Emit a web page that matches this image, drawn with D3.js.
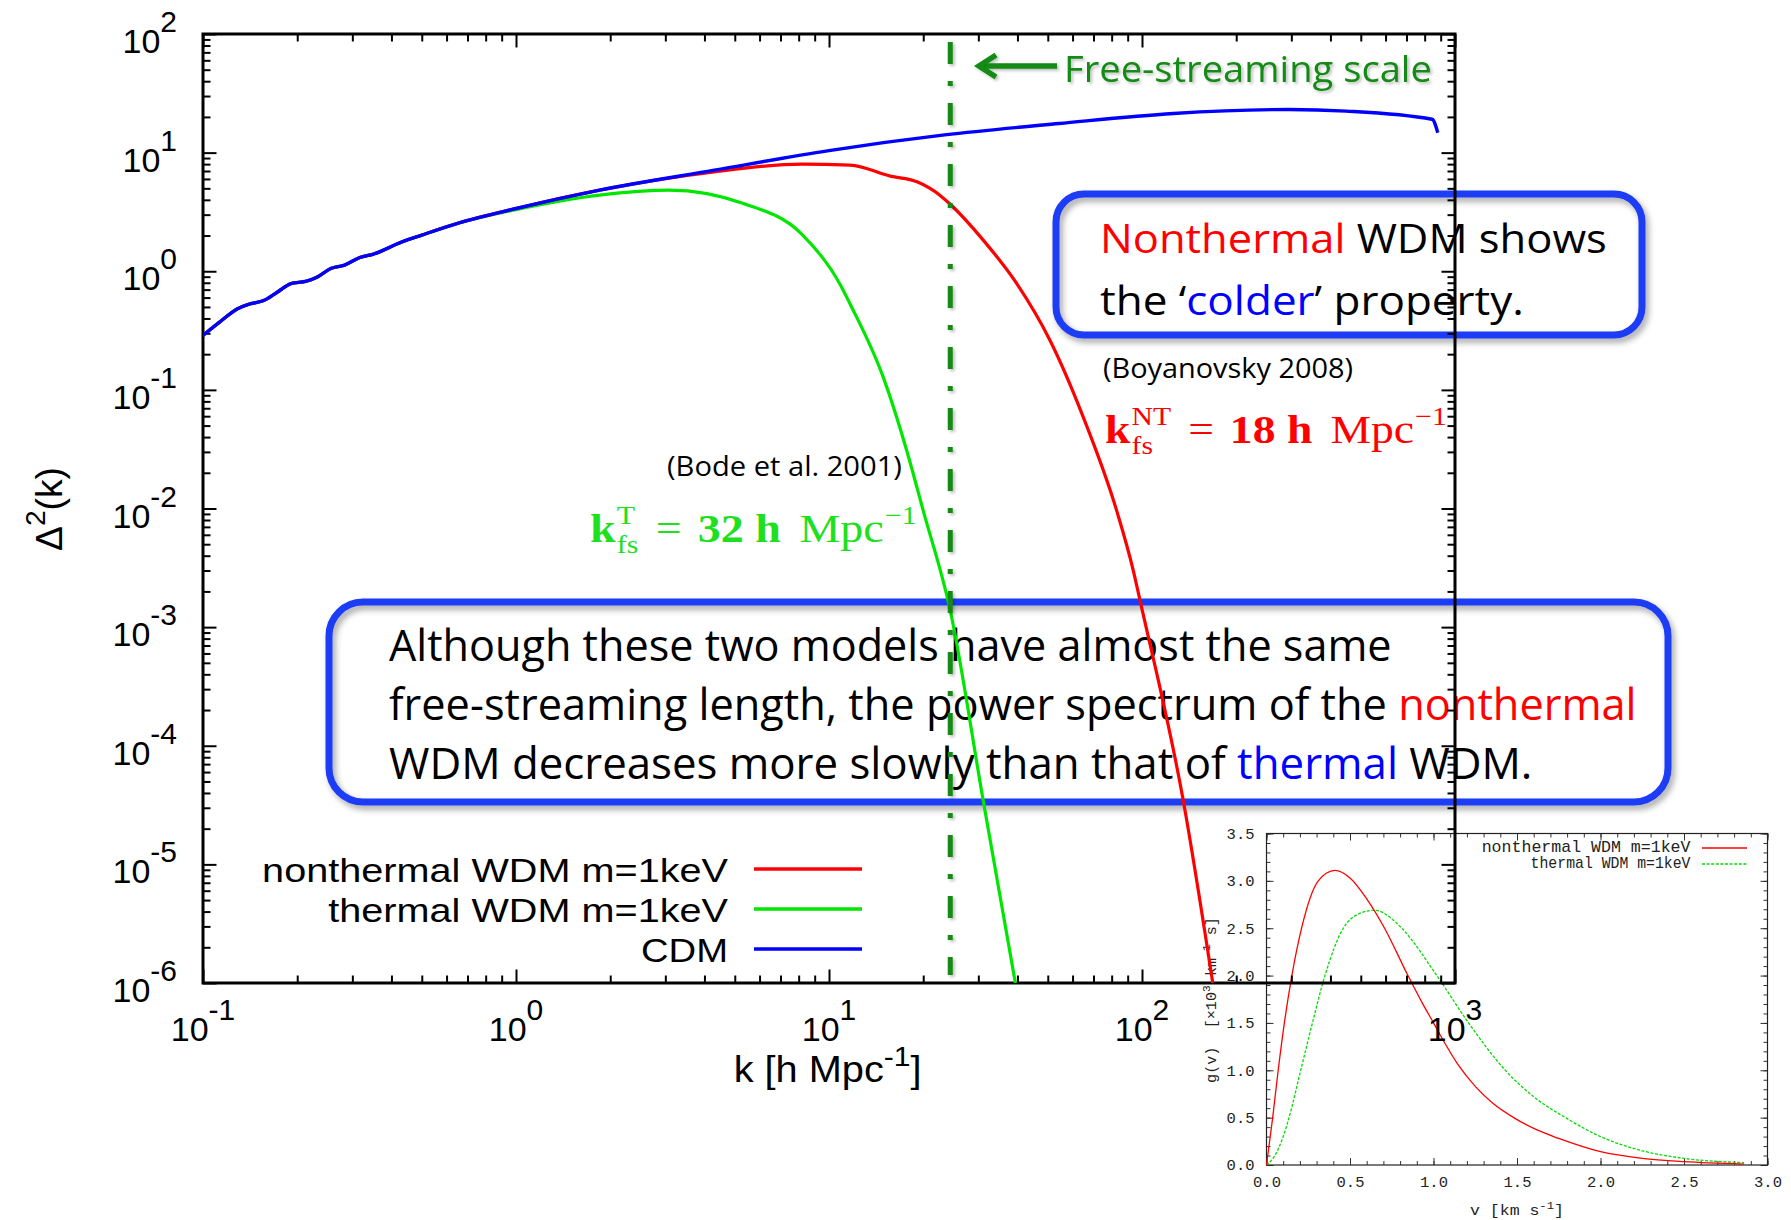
<!DOCTYPE html>
<html>
<head>
<meta charset="utf-8">
<script src="https://d3js.org/d3.v7.min.js"></script>
<style>
  body { margin: 0; background: #fff; }
  svg { display: block; }
</style>
</head>
<body>
<svg id="chart" width="1791" height="1220"></svg>
<script>
// ---- main panel: Delta^2(k) against k ----
const cdmK = [0.1, 0.113, 0.129, 0.140, 0.157, 0.173, 0.191, 0.214, 0.232, 0.256, 0.283, 0.317, 0.349, 0.432, 0.498, 0.659, 1.0, 1.85, 4.3, 10, 23.4, 54.3, 126, 295, 449, 845, 881];
const cdmD = [0.288, 0.373, 0.484, 0.527, 0.569, 0.668, 0.787, 0.824, 0.895, 1.054, 1.125, 1.306, 1.39, 1.766, 2.01, 2.56, 3.38, 4.83, 7.11, 10.4, 14.1, 17.6, 21.4, 23.1, 22.4, 19.1, 14.7];

// the two WDM curves sit on top of CDM below k = 1
const ntK = [1.85, 4.3, 8.15, 11.7, 15.7, 19.1, 22.6, 24.4, 31.1, 39.8, 50.8, 64.9, 83.0, 93.8, 98.6, 135.5, 168.3];
const ntD = [4.83, 6.89, 8.0, 7.85, 6.34, 5.68, 4.38, 3.67, 1.83, 0.787, 0.262, 0.059, 0.0096, 0.0030, 0.00167, 3.44e-5, 1.0e-6];

const thK = [1.0, 1.85, 3.08, 5.33, 8.15, 10.9, 11.7, 14.9, 17.7, 20.0, 24.4, 31.1, 39.4];
const thD = [3.31, 4.38, 4.83, 3.72, 2.08, 0.76, 0.525, 0.128, 0.031, 0.0096, 0.00138, 3.44e-5, 1.0e-6];

const kFreeStreaming = 24.4;
const majorK = [0.1, 1, 10, 100, 1000];
const majorD = [1e-6, 1e-5, 1e-4, 1e-3, 1e-2, 1e-1, 1, 10, 100];
const kExponents = ["-1", "0", "1", "2", "3"];
const dExponents = ["-6", "-5", "-4", "-3", "-2", "-1", "0", "1", "2"];
const legendLabels = ["nonthermal WDM m=1keV", "thermal WDM m=1keV", "CDM"];
const legendColors = ["#ff0000", "#00e600", "#0000ff"];

// ---- inset: velocity distribution g(v) ----
const insetNtV = [0, 0.037, 0.07, 0.107, 0.152, 0.21, 0.31, 0.41, 0.5, 0.6, 0.707, 0.847, 0.93, 1.0, 1.07, 1.143, 1.25, 1.35, 1.49, 1.62, 1.75, 2.0, 2.25, 2.5, 2.86];
const insetNtG = [0, 0.5, 1.0, 1.5, 2.0, 2.5, 3.0, 3.11, 3.03, 2.81, 2.5, 2.0, 1.72, 1.5, 1.28, 1.07, 0.83, 0.66, 0.49, 0.37, 0.28, 0.14, 0.07, 0.035, 0.01];
const insetThV = [0, 0.05, 0.1, 0.135, 0.205, 0.275, 0.35, 0.46, 0.55, 0.648, 0.75, 0.81, 1.02, 1.21, 1.43, 1.6, 1.79, 2.0, 2.25, 2.5, 2.86];
const insetThG = [0, 0.1, 0.3, 0.5, 1.0, 1.5, 2.0, 2.5, 2.65, 2.69, 2.6, 2.5, 2.0, 1.5, 1.0, 0.72, 0.5, 0.3, 0.15, 0.07, 0.025];
const insetXTicks = [0, 0.5, 1.0, 1.5, 2.0, 2.5, 3.0];
const insetYTicks = [0, 0.5, 1.0, 1.5, 2.0, 2.5, 3.0, 3.5];
const insetLegend = ["nonthermal WDM m=1keV", "thermal WDM m=1keV"];

const SANS = "'Liberation Sans', Arial, Helvetica, sans-serif";
const BODY = "'Open Sans', 'Noto Sans', sans-serif";
const SERIF = "'Liberation Serif', 'DejaVu Serif', serif";
const MONO = "'Liberation Mono', 'DejaVu Sans Mono', monospace";
const BOX_BLUE = "#1a3cf5";
const DARK_GREEN = "#128a12";

const svg = d3.select("#chart");
svg.append("rect").attr("width", 1791).attr("height", 1220).attr("fill", "#fff");

const defs = svg.append("defs");
defs.append("filter").attr("id", "shadow")
  .attr("x", "-5%").attr("y", "-10%").attr("width", "115%").attr("height", "130%")
  .append("feDropShadow")
  .attr("dx", 3).attr("dy", 4).attr("stdDeviation", 3)
  .attr("flood-color", "#000").attr("flood-opacity", 0.35);
// user-space region so that a bare vertical line still gets its shadow
defs.append("filter").attr("id", "softShadow")
  .attr("filterUnits", "userSpaceOnUse")
  .attr("x", 0).attr("y", 0).attr("width", 1791).attr("height", 1220)
  .append("feDropShadow")
  .attr("dx", 2).attr("dy", 2).attr("stdDeviation", 1.5)
  .attr("flood-color", "#000").attr("flood-opacity", 0.25);

/**
 * Squeezes or stretches a text element horizontally so it spans `width`,
 * keeping its anchor point fixed (fonts here are wider than Calibri)
 */
function fitWidth(sel, width) {
  const w = sel.node().getComputedTextLength();
  const x = +sel.attr("x");
  const s = width / w;
  sel.attr("transform", `translate(${x},0) scale(${s},1) translate(${-x},0)`);
  return sel;
}

function addText(g, x, y, size, family) {
  return g.append("text")
    .attr("x", x).attr("y", y)
    .attr("font-size", size).attr("font-family", family)
    .attr("xml:space", "preserve");
}

// ================= inset =================
const ix = d3.scaleLinear().domain([0, 3]).range([1266.5, 1767.5]);
const iy = d3.scaleLinear().domain([0, 3.5]).range([1165, 833.5]);
const inset = svg.append("g").attr("id", "inset");

const insetMinorX = d3.range(0, 3.0001, 0.1);
const insetMinorY = d3.range(0, 3.5001, 0.1);

function insetAxis(axis, minor, tx, ty, labels) {
  const horizontal = axis === d3.axisBottom || axis === d3.axisTop;
  const scale = horizontal ? ix : iy;
  const ticks = horizontal ? insetXTicks : insetYTicks;
  const gMinor = inset.append("g").attr("transform", `translate(${tx},${ty})`)
    .call(axis(scale).tickValues(minor).tickSize(-4).tickSizeOuter(0).tickFormat(""));
  gMinor.select(".domain").remove();
  const gMajor = inset.append("g").attr("transform", `translate(${tx},${ty})`)
    .call(axis(scale).tickValues(ticks).tickSize(-7).tickSizeOuter(0)
      .tickPadding(axis === d3.axisBottom ? 11 : 12)
      .tickFormat(labels ? d3.format(".1f") : ""));
  gMajor.select(".domain").remove();
  [gMinor, gMajor].forEach(g => g.selectAll(".tick line").attr("stroke", "#333").attr("stroke-width", 1));
  gMajor.selectAll("text").attr("font-family", MONO).attr("font-size", 15.5).attr("fill", "#222");
}
insetAxis(d3.axisBottom, insetMinorX, 0, 1165, true);
insetAxis(d3.axisTop, insetMinorX, 0, 833.5, false);
insetAxis(d3.axisLeft, insetMinorY, 1266.5, 0, true);
insetAxis(d3.axisRight, insetMinorY, 1767.5, 0, false);

inset.append("rect")
  .attr("x", 1266.5).attr("y", 833.5).attr("width", 501).attr("height", 331.5)
  .attr("fill", "none").attr("stroke", "#222").attr("stroke-width", 1.2);

const insetLine = d3.line().x(d => ix(d[0])).y(d => iy(d[1])).curve(d3.curveMonotoneX);
inset.append("path")
  .attr("d", insetLine(d3.zip(insetThV, insetThG)))
  .attr("fill", "none").attr("stroke", "#00dd00").attr("stroke-width", 1.3)
  .attr("stroke-dasharray", "3,1.6");
inset.append("path")
  .attr("d", insetLine(d3.zip(insetNtV, insetNtG)))
  .attr("fill", "none").attr("stroke", "#ff0000").attr("stroke-width", 1.3);

// inset legend
insetLegend.forEach((lab, i) => {
  const yy = 848 + i * 16;
  const t = addText(inset, 1690.5, yy + 4.5, 16, MONO).attr("text-anchor", "end").attr("fill", "#222").text(lab);
  fitWidth(t, i === 0 ? 209 : 160);
  inset.append("line")
    .attr("x1", 1702).attr("x2", 1747).attr("y1", yy).attr("y2", yy)
    .attr("stroke", i === 0 ? "#ff0000" : "#00dd00").attr("stroke-width", 1.3)
    .attr("stroke-dasharray", i === 0 ? null : "3,1.6");
});

// inset axis titles
const ixl = addText(inset, 1517, 1215, 15.5, MONO).attr("text-anchor", "middle").attr("fill", "#222");
ixl.append("tspan").text("v [km s");
ixl.append("tspan").attr("dy", -6).attr("font-size", 11.5).text("-1");
ixl.append("tspan").attr("dy", 6).text("]");
fitWidth(ixl, 94);

const iyl = inset.append("g").attr("transform", "translate(1216,1000) rotate(-90)");
const iylt = addText(iyl, 0, 0, 15.5, MONO).attr("text-anchor", "middle").attr("fill", "#222");
iylt.append("tspan").text("g(v)  [\u00d710");
iylt.append("tspan").attr("dy", -6).attr("font-size", 11.5).text("3");
iylt.append("tspan").attr("dy", 6).text(" km");
iylt.append("tspan").attr("dy", -6).attr("font-size", 11.5).text("-1");
iylt.append("tspan").attr("dy", 6).text(" s]");
fitWidth(iylt, 166);

// ================= annotation boxes (under the chart lines) =================
const boxes = svg.append("g").attr("id", "boxes");
boxes.append("rect")
  .attr("x", 1056).attr("y", 194).attr("width", 586).attr("height", 141)
  .attr("rx", 28).attr("ry", 28)
  .attr("fill", "none").attr("stroke", BOX_BLUE).attr("stroke-width", 7)
  .attr("filter", "url(#shadow)");
boxes.append("rect")
  .attr("x", 329).attr("y", 602).attr("width", 1339).attr("height", 200)
  .attr("rx", 34).attr("ry", 34)
  .attr("fill", "none").attr("stroke", BOX_BLUE).attr("stroke-width", 7)
  .attr("filter", "url(#shadow)");

const b1a = addText(boxes, 1100, 253, 40, BODY).attr("fill", "#000");
b1a.append("tspan").attr("fill", "#ff0000").text("Nonthermal");
b1a.append("tspan").text(" WDM shows");
fitWidth(b1a, 507);
const b1b = addText(boxes, 1100, 315, 40, BODY).attr("fill", "#000");
b1b.append("tspan").text("the \u2018");
b1b.append("tspan").attr("fill", "#0000ff").text("colder");
b1b.append("tspan").text("\u2019 property.");
fitWidth(b1b, 424);

const b2a = addText(boxes, 389, 661, 44, BODY).attr("fill", "#000")
  .text("Although these two models have almost the same");
fitWidth(b2a, 1003);
const b2b = addText(boxes, 389, 720, 44, BODY).attr("fill", "#000");
b2b.append("tspan").text("free-streaming length, the power spectrum of the ");
b2b.append("tspan").attr("fill", "#ff0000").text("nonthermal");
fitWidth(b2b, 1248);
const b2c = addText(boxes, 389, 779, 44, BODY).attr("fill", "#000");
b2c.append("tspan").text("WDM decreases more slowly than that of ");
b2c.append("tspan").attr("fill", "#0000ff").text("thermal");
b2c.append("tspan").text(" WDM.");
fitWidth(b2c, 1144);

// ================= main chart =================
const x = d3.scaleLog().domain([0.1, 1000]).range([203, 1455]);
const y = d3.scaleLog().domain([1e-6, 100]).range([983, 34]);
const [x0, x1] = x.range();
const [yb, yt] = y.range();
const main = svg.append("g").attr("id", "main");

const minorK = [];
majorK.slice(0, -1).forEach(d => { for (let m = 2; m <= 9; m++) minorK.push(d * m); });
const minorD = [];
majorD.slice(0, -1).forEach(d => { for (let m = 2; m <= 9; m++) minorD.push(d * m); });

function mainTicks(axisFn, scale, major, minor, tx, ty) {
  [[minor, -7.5], [major, -13.5]].forEach(([vals, size]) => {
    const g = main.append("g").attr("transform", `translate(${tx},${ty})`)
      .call(axisFn(scale).tickValues(vals).tickSize(size).tickSizeOuter(0).tickFormat(""));
    g.select(".domain").remove();
    g.selectAll(".tick line").attr("stroke", "#000").attr("stroke-width", 2);
  });
}
mainTicks(d3.axisBottom, x, majorK, minorK, 0, yb);
mainTicks(d3.axisTop, x, majorK, minorK, 0, yt);
mainTicks(d3.axisLeft, y, majorD, minorD, x0, 0);
mainTicks(d3.axisRight, y, majorD, minorD, x1, 0);

main.append("rect")
  .attr("x", x0).attr("y", yt).attr("width", x1 - x0).attr("height", yb - yt)
  .attr("fill", "none").attr("stroke", "#000").attr("stroke-width", 3);

function powerLabel(px, py, exp, anchor) {
  const t = addText(main, px, py, 34, SANS).attr("text-anchor", anchor).attr("fill", "#000");
  t.append("tspan").text("10");
  t.append("tspan").attr("dy", -21).attr("font-size", 30).text(exp);
  return t;
}
majorK.forEach((k, i) => powerLabel(x(k), 1041, kExponents[i], "middle"));
majorD.forEach((d, i) => powerLabel(177, y(d) + 19, dExponents[i], "end"));

// axis titles
const xl = addText(main, 827.6, 1082, 37, SANS).attr("text-anchor", "middle").attr("fill", "#000");
xl.append("tspan").text("k [h Mpc");
xl.append("tspan").attr("dy", -16).attr("font-size", 28).text("-1");
xl.append("tspan").attr("dy", 16).text("]");
fitWidth(xl, 188);

const yl = main.append("g").attr("transform", "translate(62,509) rotate(-90)");
const ylt = addText(yl, 0, 0, 37, SANS).attr("text-anchor", "middle").attr("fill", "#000");
ylt.append("tspan").text("\u0394");
ylt.append("tspan").attr("dy", -17).attr("font-size", 28).text("2");
ylt.append("tspan").attr("dy", 17).text("(k)");
fitWidth(ylt, 84);

// curves
defs.append("clipPath").attr("id", "plotClip")
  .append("rect").attr("x", x0).attr("y", yt).attr("width", x1 - x0).attr("height", yb - yt);

const line = d3.line().x(d => x(d[0])).y(d => y(d[1])).curve(d3.curveMonotoneX);
const lowCdm = d3.zip(cdmK, cdmD).filter(d => d[0] < 1);
const curves = main.append("g").attr("clip-path", "url(#plotClip)");
curves.append("path")
  .attr("d", line(lowCdm.concat(d3.zip(thK, thD))))
  .attr("fill", "none").attr("stroke", legendColors[1]).attr("stroke-width", 3.2);
curves.append("path")
  .attr("d", line(lowCdm.concat([[1.0, 3.38]], d3.zip(ntK, ntD))))
  .attr("fill", "none").attr("stroke", legendColors[0]).attr("stroke-width", 3.2);
curves.append("path")
  .attr("d", line(d3.zip(cdmK, cdmD)))
  .attr("fill", "none").attr("stroke", legendColors[2]).attr("stroke-width", 3.4);

// free-streaming scale marker
main.append("line")
  .attr("x1", x(kFreeStreaming)).attr("x2", x(kFreeStreaming))
  .attr("y1", 42).attr("y2", 975)
  .attr("stroke", DARK_GREEN).attr("stroke-width", 5)
  .attr("stroke-dasharray", "22,17,5,17")
  .attr("filter", "url(#softShadow)");

// legend
legendLabels.forEach((lab, i) => {
  const ly = 869 + i * 40;
  const t = addText(main, 728, ly + 13, 34, SANS).attr("text-anchor", "end").attr("fill", "#000").text(lab);
  fitWidth(t, [466, 400, 87][i]);
  main.append("line")
    .attr("x1", 754).attr("x2", 862).attr("y1", ly).attr("y2", ly)
    .attr("stroke", legendColors[i]).attr("stroke-width", 3.4);
});

// ================= annotations =================
const notes = svg.append("g").attr("id", "notes");

const arrow = notes.append("g").attr("filter", "url(#softShadow)");
arrow.append("line").attr("x1", 982).attr("x2", 1057).attr("y1", 66).attr("y2", 66)
  .attr("stroke", DARK_GREEN).attr("stroke-width", 5.5);
arrow.append("path").attr("d", "M996,55 L979,66 L996,77")
  .attr("fill", "none").attr("stroke", DARK_GREEN).attr("stroke-width", 5.5)
  .attr("stroke-linejoin", "miter");
const fs = addText(arrow, 1064, 82, 36, BODY).attr("fill", DARK_GREEN).text("Free-streaming scale");
fitWidth(fs, 368);

fitWidth(addText(notes, 1103, 378, 28, BODY).attr("fill", "#000").text("(Boyanovsky 2008)"), 250);
fitWidth(addText(notes, 667, 476, 28, BODY).attr("fill", "#000").text("(Bode et al. 2001)"), 235);

/**
 * Lays out a LaTeX-like formula piece by piece: plain runs, gaps and
 * stacked superscript/subscript pairs, then fits it into `width`
 */
function formula(px, py, color, pieces, width) {
  const g = notes.append("g").attr("fill", color);
  let cx = px;
  pieces.forEach(p => {
    if (p.gap) { cx += p.gap; return; }
    if (p.text !== undefined) {
      const t = addText(g, cx, py, 40, SERIF).attr("font-weight", p.bold ? "bold" : "normal").text(p.text);
      cx += t.node().getComputedTextLength();
      return;
    }
    let w = 0;
    if (p.sup) {
      const t = addText(g, cx + 1, py - 18, 26, SERIF).text(p.sup);
      w = Math.max(w, t.node().getComputedTextLength());
    }
    if (p.sub) {
      const t = addText(g, cx + 1, py + 11, 26, SERIF).text(p.sub);
      w = Math.max(w, t.node().getComputedTextLength());
    }
    cx += w + 2;
  });
  const s = width / (cx - px);
  g.attr("transform", `translate(${px},0) scale(${s},1) translate(${-px},0)`);
}

formula(1105, 443, "#ff0000", [
  { text: "k", bold: true }, { sup: "NT", sub: "fs" }, { gap: 14 },
  { text: "=" }, { gap: 14 }, { text: "18 h", bold: true }, { gap: 16 },
  { text: "Mpc" }, { sup: "\u22121" }
], 343);

formula(590, 542, "#1ee01e", [
  { text: "k", bold: true }, { sup: "T", sub: "fs" }, { gap: 14 },
  { text: "=" }, { gap: 14 }, { text: "32 h", bold: true }, { gap: 16 },
  { text: "Mpc" }, { sup: "\u22121" }
], 328);
</script>
</body>
</html>
